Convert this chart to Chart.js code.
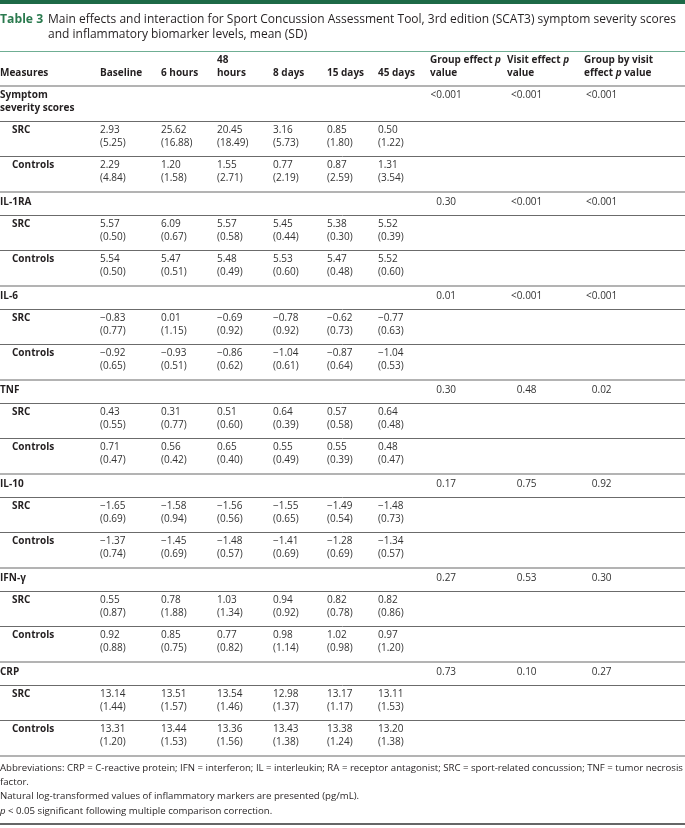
<!DOCTYPE html>
<html>
<head>
<meta charset="utf-8">
<script src="https://cdn.jsdelivr.net/npm/chart.js@4.4.0/dist/chart.umd.min.js"></script>
<style>
  html, body { margin: 0; padding: 0; background: #fff; }
  canvas { display: block; }
</style>
</head>
<body>
<canvas id="table3" width="685" height="828"></canvas>
<script>
// ---- table data ----
const titleLabel = "Table 3";
const titleLines = [
  "Main effects and interaction for Sport Concussion Assessment Tool, 3rd edition (SCAT3) symptom severity scores",
  "and inflammatory biomarker levels, mean (SD)"
];
const headers = ["Measures", "Baseline", "6 hours", "48\nhours", "8 days", "15 days", "45 days",
  "Group effect *p*\nvalue", "Visit effect *p*\nvalue", "Group by visit\neffect *p* value"];
const measures = ["Symptom\nseverity scores", "IL-1RA", "IL-6", "TNF", "IL-10", "IFN-γ", "CRP"];
const groups = ["SRC", "Controls"];

// mean values per measure, per timepoint
const srcMean = [
  [2.93, 25.62, 20.45, 3.16, 0.85, 0.50],
  [5.57, 6.09, 5.57, 5.45, 5.38, 5.52],
  [-0.83, 0.01, -0.69, -0.78, -0.62, -0.77],
  [0.43, 0.31, 0.51, 0.64, 0.57, 0.64],
  [-1.65, -1.58, -1.56, -1.55, -1.49, -1.48],
  [0.55, 0.78, 1.03, 0.94, 0.82, 0.82],
  [13.14, 13.51, 13.54, 12.98, 13.17, 13.11]
];
const srcSD = [
  [5.25, 16.88, 18.49, 5.73, 1.80, 1.22],
  [0.50, 0.67, 0.58, 0.44, 0.30, 0.39],
  [0.77, 1.15, 0.92, 0.92, 0.73, 0.63],
  [0.55, 0.77, 0.60, 0.39, 0.58, 0.48],
  [0.69, 0.94, 0.56, 0.65, 0.54, 0.73],
  [0.87, 1.88, 1.34, 0.92, 0.78, 0.86],
  [1.44, 1.57, 1.46, 1.37, 1.17, 1.53]
];
const ctlMean = [
  [2.29, 1.20, 1.55, 0.77, 0.87, 1.31],
  [5.54, 5.47, 5.48, 5.53, 5.47, 5.52],
  [-0.92, -0.93, -0.86, -1.04, -0.87, -1.04],
  [0.71, 0.56, 0.65, 0.55, 0.55, 0.48],
  [-1.37, -1.45, -1.48, -1.41, -1.28, -1.34],
  [0.92, 0.85, 0.77, 0.98, 1.02, 0.97],
  [13.31, 13.44, 13.36, 13.43, 13.38, 13.20]
];
const ctlSD = [
  [4.84, 1.58, 2.71, 2.19, 2.59, 3.54],
  [0.50, 0.51, 0.49, 0.60, 0.48, 0.60],
  [0.65, 0.51, 0.62, 0.61, 0.64, 0.53],
  [0.47, 0.42, 0.40, 0.49, 0.39, 0.47],
  [0.74, 0.69, 0.57, 0.69, 0.69, 0.57],
  [0.88, 0.75, 0.82, 1.14, 0.98, 1.20],
  [1.20, 1.53, 1.56, 1.38, 1.24, 1.38]
];
const groupP = ["<0.001", "0.30", "0.01", "0.30", "0.17", "0.27", "0.73"];
const visitP = ["<0.001", "<0.001", "<0.001", "0.48", "0.75", "0.53", "0.10"];
const interactionP = ["<0.001", "<0.001", "<0.001", "0.02", "0.92", "0.30", "0.27"];
const footnotes = [
  "Abbreviations: CRP = C-reactive protein; IFN = interferon; IL = interleukin; RA = receptor antagonist; SRC = sport-related concussion; TNF = tumor necrosis",
  "factor.",
  "Natural log-transformed values of inflammatory markers are presented (pg/mL).",
  "*p* < 0.05 significant following multiple comparison correction."
];

// ---- layout (in table units, mapped through the chart scales) ----
const colX = [0, 100, 161, 217, 273, 327, 378, 430, 507, 584];
const pDecimalX = [442, 522.5, 597.5];
const groupIndent = 12;
const FONT = '"Open Sans", "Noto Sans", sans-serif';
const TEXT = "#231f20";
const GREEN = "#2a7a4e";
const LINE_GAP = 13;

function fmt(v) {
  return v.toFixed(2).replace("-", "\u2212");
}

// draws text with *italic* segments
function drawRich(ctx, str, x, y, size, weight) {
  const parts = str.split("*");
  let cx = x;
  parts.forEach((p, i) => {
    if (!p) return;
    ctx.font = (i % 2 ? "italic " : "") + weight + " " + size + "px " + FONT;
    ctx.fillText(p, cx, y);
    cx += ctx.measureText(p).width;
  });
}

const tablePlugin = {
  id: "tableDraw",
  afterDraw(chart) {
    const ctx = chart.ctx;
    const sx = v => chart.scales.x.getPixelForValue(v);
    const sy = v => chart.scales.y.getPixelForValue(v);
    const hline = (y, color, w) => {
      ctx.save();
      ctx.strokeStyle = color;
      ctx.lineWidth = w;
      ctx.beginPath();
      ctx.moveTo(sx(0), sy(y));
      ctx.lineTo(sx(685), sy(y));
      ctx.stroke();
      ctx.restore();
    };
    ctx.save();
    ctx.textBaseline = "middle";
    ctx.textAlign = "left";

    // top band
    ctx.fillStyle = "#1d6a47";
    ctx.fillRect(sx(0), sy(0), sx(685) - sx(0), sy(4) - sy(0));

    // title
    ctx.fillStyle = GREEN;
    ctx.font = "bold 12.2px " + FONT;
    ctx.fillText(titleLabel, sx(0), sy(19.5));
    ctx.fillStyle = TEXT;
    ctx.font = "12px " + FONT;
    titleLines.forEach((t, i) => ctx.fillText(t, sx(48), sy(19.5 + i * 15)));
    hline(51.5, "#6fae93", 1.2);

    // header (bottom aligned)
    ctx.fillStyle = TEXT;
    headers.forEach((h, c) => {
      const lines = h.split("\n");
      const y0 = 73 - (lines.length - 1) * LINE_GAP;
      lines.forEach((ln, k) => drawRich(ctx, ln, sx(colX[c]), sy(y0 + k * LINE_GAP), 10, "bold"));
    });
    hline(86, "#b3b3b3", 2);

    // body
    let top = 87;
    measures.forEach((m, i) => {
      const mLines = m.split("\n");
      const secH = mLines.length > 1 ? 34 : 22;
      const ty = mLines.length > 1 ? top + 8.5 : top + 9;
      ctx.fillStyle = TEXT;
      mLines.forEach((ln, k) => drawRich(ctx, ln, sx(colX[0]), sy(ty + k * LINE_GAP), 10, "bold"));
      [groupP[i], visitP[i], interactionP[i]].forEach((p, k) => {
        ctx.font = "10px " + FONT;
        const pre = ctx.measureText(p.slice(0, p.indexOf("."))).width;
        ctx.fillStyle = "#333";
        ctx.fillText(p, sx(pDecimalX[k]) - pre, sy(ty));
      });
      top += secH;
      hline(top + 0.5, "#6b6b6b", 1);
      top += 1;

      const rows = [[srcMean[i], srcSD[i]], [ctlMean[i], ctlSD[i]]];
      rows.forEach((r, g) => {
        ctx.fillStyle = TEXT;
        drawRich(ctx, groups[g], sx(colX[0] + groupIndent), sy(top + 8.5), 10, "bold");
        ctx.font = "10px " + FONT;
        ctx.fillStyle = "#333";
        r[0].forEach((v, c) => {
          ctx.fillText(fmt(v), sx(colX[c + 1]), sy(top + 8.5));
          ctx.fillText("(" + fmt(r[1][c]) + ")", sx(colX[c + 1]), sy(top + 8.5 + LINE_GAP));
        });
        top += 34;
        if (g === 0) {
          hline(top + 0.5, "#6b6b6b", 1);
          top += 1;
        } else {
          hline(top + 1, "#b3b3b3", 2);
          top += 2;
        }
      });
    });

    // footnotes
    ctx.fillStyle = TEXT;
    footnotes.forEach((f, i) => {
      drawRich(ctx, f, sx(0), sy(768 + i * 14.3), 9.65, "normal");
    });
    hline(824, "#333", 1.5);
    ctx.restore();
  }
};

new Chart(document.getElementById("table3"), {
  type: "scatter",
  data: { datasets: [] },
  options: {
    responsive: false,
    animation: false,
    devicePixelRatio: 1,
    layout: { padding: 0 },
    plugins: { legend: { display: false }, tooltip: { enabled: false } },
    scales: {
      x: { type: "linear", min: 0, max: 685, display: false },
      y: { type: "linear", min: 0, max: 828, reverse: true, display: false }
    }
  },
  plugins: [tablePlugin]
});
</script>
</body>
</html>
